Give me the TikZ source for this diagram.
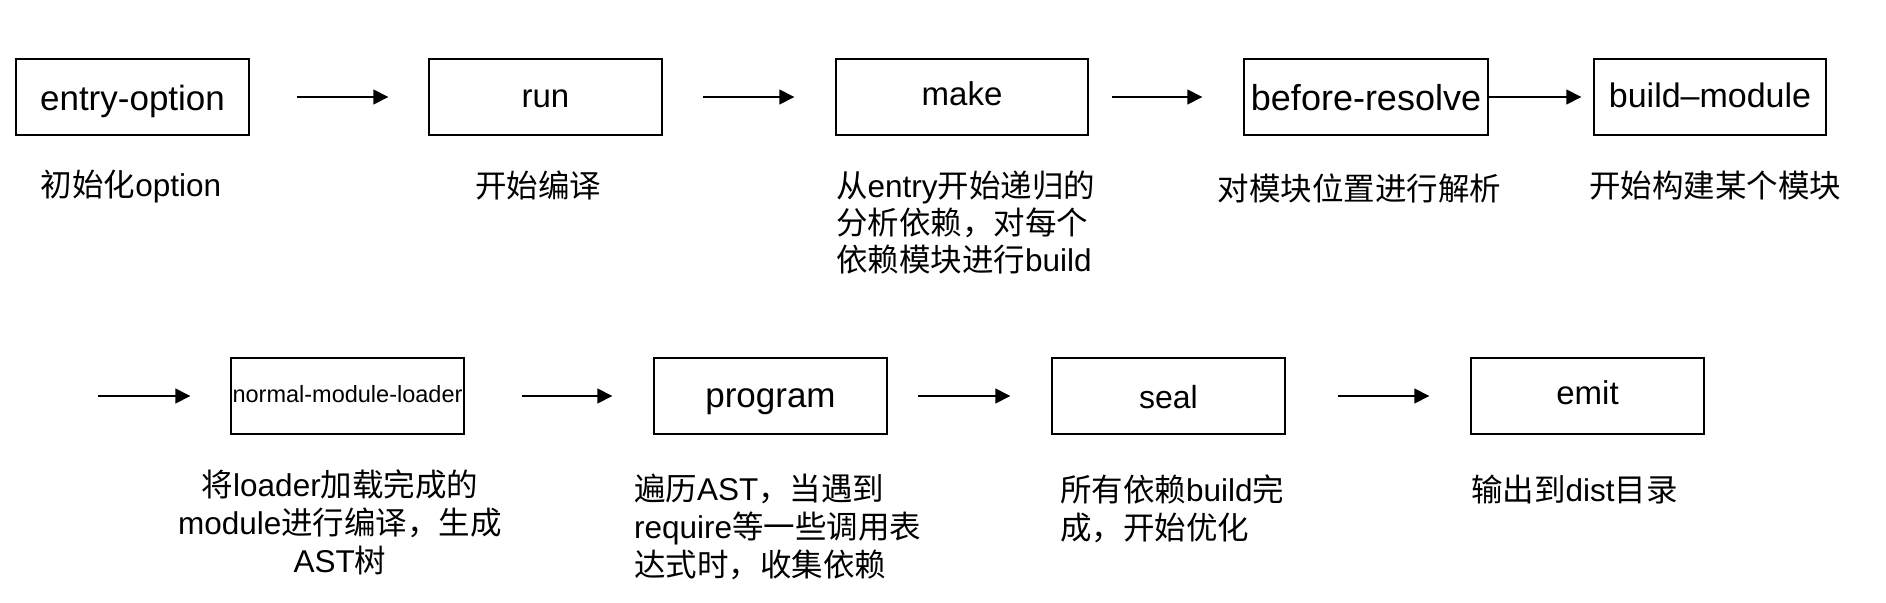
\documentclass[tikz,border=0pt]{standalone}
\usepackage{fontspec}
\setmainfont{Liberation Sans}
\newfontfamily\cjk{Noto Sans CJK SC}
\newfontfamily\lat{Liberation Sans}
\usetikzlibrary{arrows.meta}
\tikzset{
  stage/.style={draw, line width=1.4pt, minimum height=76pt, inner sep=0pt, text depth=0pt},
  desc/.style={font={\cjk\fontsize{31.5}{38}\selectfont}, inner sep=0pt},
  flow/.style={line width=1.4pt, -{Triangle[length=15pt,width=15pt]}},
}
\begin{document}
\begin{tikzpicture}[x=1pt,y=-1pt]
\path[use as bounding box] (0,0) rectangle (1886,602);
% row 1 boxes
\node[stage, minimum width=233pt, text height=26pt, font=\fontsize{35}{40}\selectfont] (eo) at (132.5,97) {entry-option};
\node[stage, minimum width=233pt, text height=20pt, font=\fontsize{33}{40}\selectfont] (run) at (545.5,97) {run};
\node[stage, minimum width=252pt, text height=16pt, font=\fontsize{33}{40}\selectfont] (make) at (962,97) {make};
\node[stage, minimum width=244pt, text height=26pt, font=\fontsize{36}{40}\selectfont] (br) at (1366,97) {before-resolve};
\node[stage, minimum width=232pt, text height=20pt, font=\fontsize{34}{40}\selectfont] (bm) at (1710,97) {build–module};
% row 2 boxes
\node[stage, minimum width=233pt, text height=12pt, font=\fontsize{23.5}{28}\selectfont] (nml) at (347.5,396) {normal-module-loader};
\node[stage, minimum width=233pt, text height=22pt, font=\fontsize{35}{40}\selectfont] (prog) at (770.5,396) {program};
\node[stage, minimum width=233pt, text height=24pt, font=\fontsize{32}{40}\selectfont] (seal) at (1168.5,396) {seal};
\node[stage, minimum width=233pt, text height=16pt, font=\fontsize{33}{40}\selectfont] (emit) at (1587.5,396) {emit};
% descriptions row 1 (base anchor = baseline of last line)
\node[desc, anchor=base] (d1) at (131,196) {初始化{\lat option}};
\node[desc, anchor=base] (d2) at (538,197) {开始编译};
\node[desc, anchor=base west, align=left, font={\cjk\fontsize{31.5}{37}\selectfont}] (d3) at (836,271)
  {从{\lat entry}开始递归的\\分析依赖，对每个\\依赖模块进行{\lat build}};
\node[desc, anchor=base] (d4) at (1359.5,200) {对模块位置进行解析};
\node[desc, anchor=base] (d5) at (1715,197) {开始构建某个模块};
% descriptions row 2
\node[desc, anchor=base, align=center] (d6) at (340,572)
  {将{\lat loader}加载完成的\\{\lat module}进行编译，生成\\{\lat AST}树};
\node[desc, anchor=base west, align=left] (d7) at (634,576)
  {遍历{\lat AST}，当遇到\\{\lat require}等一些调用表\\达式时，收集依赖};
\node[desc, anchor=base west, align=left] (d8) at (1060,539)
  {所有依赖{\lat build}完\\成，开始优化};
\node[desc, anchor=base west] (d9) at (1471,501) {输出到{\lat dist}目录};
% connectors
\coordinate (start2) at (98,396);
\draw[flow, shorten <=47pt, shorten >=40pt] (eo.east) -- (run.west);
\draw[flow, shorten <=40pt, shorten >=41pt] (run.east) -- (make.west);
\draw[flow, shorten <=23pt, shorten >=41pt] (make.east) -- (br.west);
\draw[flow, shorten >=12pt] (br.east) -- (bm.west);
\draw[flow, shorten >=40pt] (start2) -- (nml.west);
\draw[flow, shorten <=57pt, shorten >=41pt] (nml.east) -- (prog.west);
\draw[flow, shorten <=30pt, shorten >=41pt] (prog.east) -- (seal.west);
\draw[flow, shorten <=52pt, shorten >=41pt] (seal.east) -- (emit.west);
\end{tikzpicture}
\end{document}
